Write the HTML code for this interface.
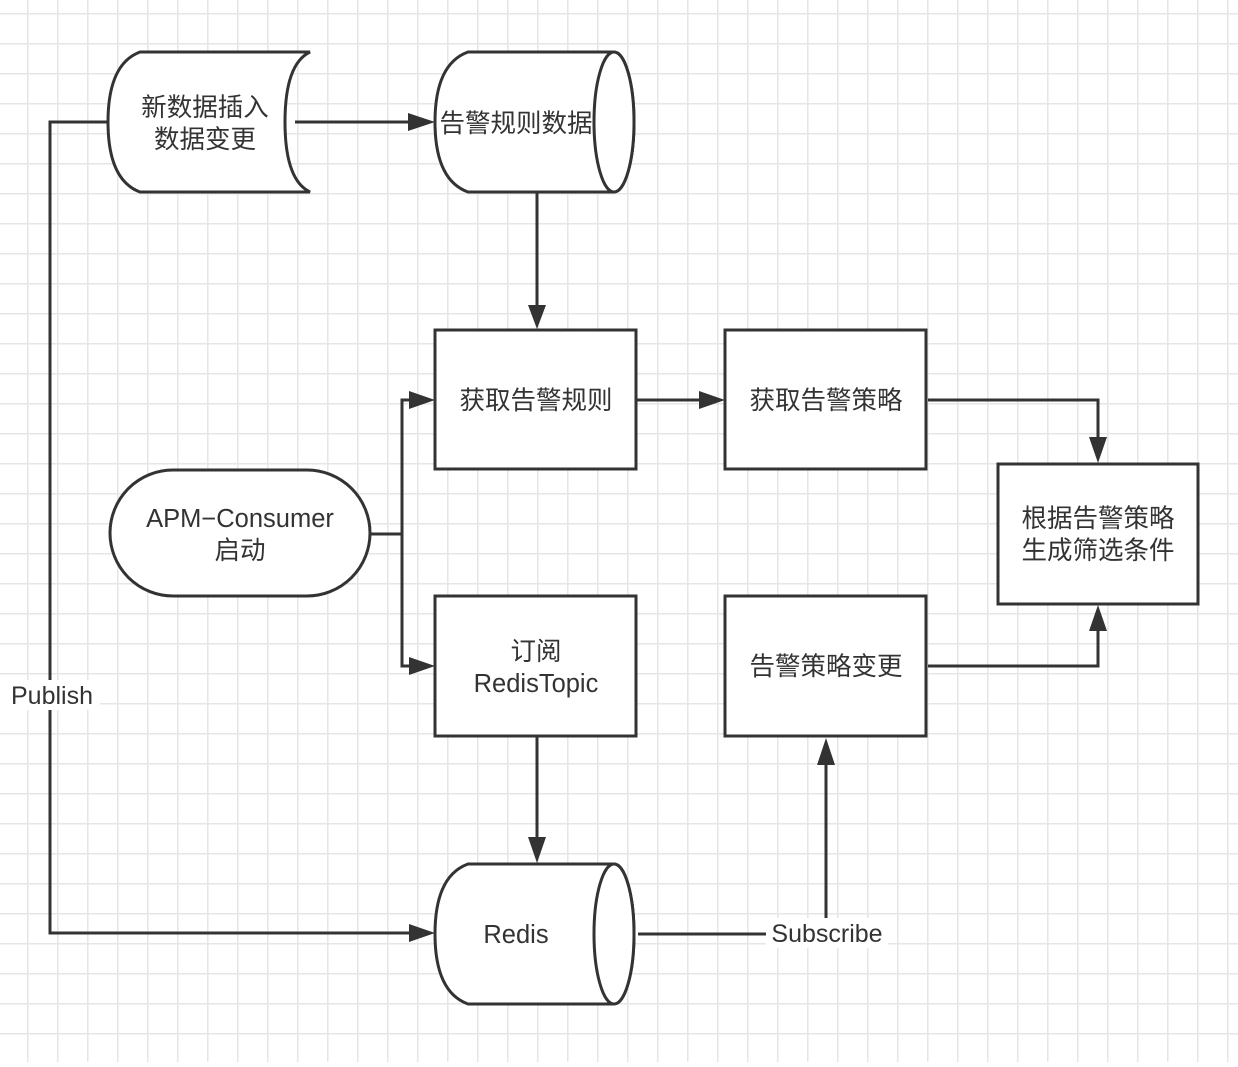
<!DOCTYPE html>
<html><head><meta charset="utf-8"><style>
html,body{margin:0;padding:0;background:#fff}
svg text{font-family:"Liberation Sans","Noto Sans CJK SC",sans-serif;fill:#333}
</style></head><body>
<svg width="1238" height="1062" viewBox="0 0 1238 1062" xmlns="http://www.w3.org/2000/svg">
<defs>
<pattern id="g" x="27" y="13" width="30" height="30" patternUnits="userSpaceOnUse">
<path d="M0 0H30M0 0V30" stroke="#e6e6e6" stroke-width="3" fill="none"/>
</pattern>
</defs>
<rect width="1238" height="1062" fill="url(#g)"/>
<g stroke="#333" stroke-width="3" fill="none">
<path d="M108 122H50V933H410"/>
<path d="M295 122H410"/>
<path d="M537 192V305"/>
<path d="M637 400H700"/>
<path d="M928 400H1098V440"/>
<path d="M928 666H1098V630"/>
<path d="M370 534H402V400H410M402 534V666H410"/>
<path d="M537 737V840"/>
<path d="M638 934H768M826 920V763"/>
</g>
<g fill="#333">
<polygon points="435,122 408,113 408,131"/>
<polygon points="537,329 528,305 546,305"/>
<polygon points="725,400 699,391 699,409"/>
<polygon points="1098,463 1089,437 1107,437"/>
<polygon points="1098,605 1089,631 1107,631"/>
<polygon points="435,400 409,391 409,409"/>
<polygon points="435,666 409,657 409,675"/>
<polygon points="537,863 528,837 546,837"/>
<polygon points="435,933 409,924 409,942"/>
<polygon points="826,738 817,765 835,765"/>
</g>
<g stroke="#333" stroke-width="3" fill="#fff">
<path d="M140 52H310Q285 64 285 122Q285 180 310 192H140Q108 180 108 122Q108 64 140 52Z"/>
<path d="M468 52H614A20 70 0 0 1 614 192H468Q435 180 435 122Q435 64 468 52Z"/>
<ellipse cx="614" cy="122" rx="20" ry="70"/>
<path d="M468 864H614A20 70 0 0 1 614 1004H468Q435 992 435 934Q435 876 468 864Z"/>
<ellipse cx="614" cy="934" rx="20" ry="70"/>
<rect x="435" y="330" width="201" height="139"/>
<rect x="725" y="330" width="201" height="139"/>
<rect x="998" y="464" width="200" height="140"/>
<rect x="725" y="596" width="201" height="140"/>
<rect x="435" y="596" width="201" height="140"/>
<rect x="110" y="470" width="260" height="126" rx="63"/>
</g>
<rect x="0" y="680" width="100" height="30" fill="#fff"/>
<text x="52" y="704" font-size="25" text-anchor="middle">Publish</text>
<rect x="766" y="918" width="122" height="30" fill="#fff"/>
<text x="827" y="942" font-size="25" text-anchor="middle">Subscribe</text>
<g font-size="25.5" text-anchor="middle">
<text x="205" y="116">新数据插入</text>
<text x="205" y="148">数据变更</text>
<text x="516" y="132">告警规则数据</text>
<text x="536" y="409">获取告警规则</text>
<text x="826" y="409">获取告警策略</text>
<text x="1098" y="527">根据告警策略</text>
<text x="1098" y="559">生成筛选条件</text>
<text x="826" y="675">告警策略变更</text>
<text x="536" y="660">订阅</text>
<text x="536" y="692">RedisTopic</text>
<text x="240" y="527">APM−Consumer</text>
<text x="240" y="559">启动</text>
<text x="516" y="943">Redis</text>
</g>
</svg>
</body></html>
